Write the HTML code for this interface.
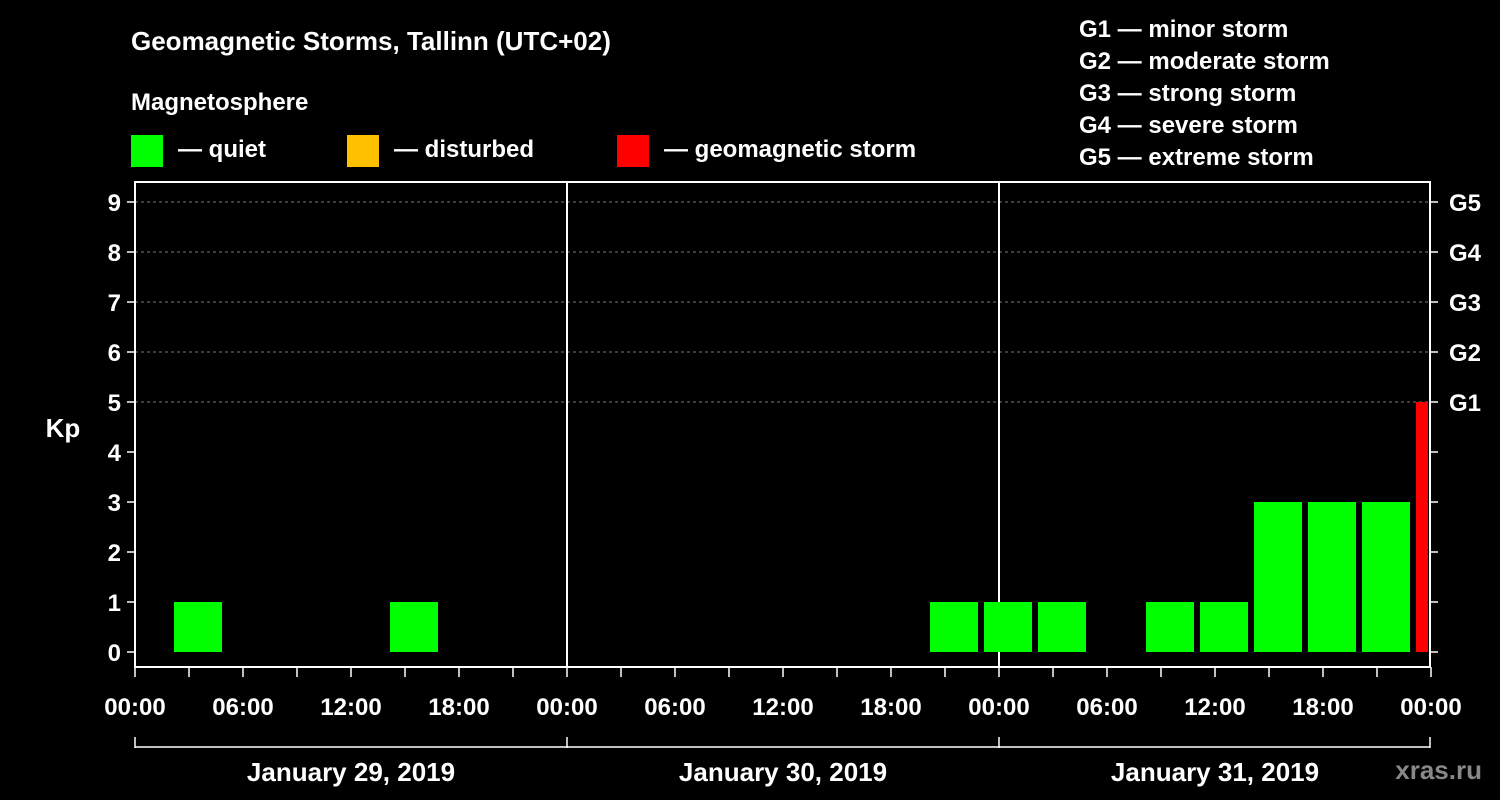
<!DOCTYPE html>
<html><head><meta charset="utf-8">
<style>
body{margin:0;background:#000;}
svg{display:block;font-family:"Liberation Sans",sans-serif;font-weight:bold;}
</style></head>
<body>
<svg id="chart" width="1500" height="800" viewBox="0 0 1500 800">
<rect x="0" y="0" width="1500" height="800" fill="#000"/>
<text x="131" y="50" fill="#fff" font-size="26">Geomagnetic Storms, Tallinn (UTC+02)</text>
<text x="131" y="110" fill="#fff" font-size="24">Magnetosphere</text>
<g><rect x="131" y="135" width="32" height="32" fill="#00ff00"/><text x="178" y="157" fill="#fff" font-size="24">— quiet</text></g>
<g><rect x="347" y="135" width="32" height="32" fill="#ffc000"/><text x="394" y="157" fill="#fff" font-size="24">— disturbed</text></g>
<g><rect x="617" y="135" width="32" height="32" fill="#ff0000"/><text x="664" y="157" fill="#fff" font-size="24">— geomagnetic storm</text></g>
<g fill="#fff" font-size="24">
<text x="1079" y="37">G1 — minor storm</text>
<text x="1079" y="69">G2 — moderate storm</text>
<text x="1079" y="101">G3 — strong storm</text>
<text x="1079" y="133">G4 — severe storm</text>
<text x="1079" y="165">G5 — extreme storm</text>
</g>
<text x="63" y="437" fill="#fff" font-size="26" text-anchor="middle">Kp</text>
<text x="1482" y="779" fill="#888" font-size="26" text-anchor="end">xras.ru</text>
<g id="grid"></g><g id="bars"></g><g id="axes"></g>
</svg>
<script>
const kpValues=[1,0,0,0,1,0,0,0, 0,0,0,0,0,0,1,1, 1,0,1,1,3,3,3,5];
const dayLabels=["January 29, 2019","January 30, 2019","January 31, 2019"];
const gLabels=["G1","G2","G3","G4","G5"];
const hourLabels=["00:00","06:00","12:00","18:00"];
const slotOffsetHours=2, slotHours=3, nowHour=71.83;

const X0=135, X1=1431, totalH=72;
const x=h=>X0+(X1-X0)*h/totalH;
const y=k=>652-50*k;
const NS="http://www.w3.org/2000/svg";
function mk(tag,attrs,parent,text){const e=document.createElementNS(NS,tag);for(const a in attrs)e.setAttribute(a,attrs[a]);if(text!==undefined)e.textContent=text;parent.appendChild(e);return e;}
const grid=document.getElementById('grid'),bars=document.getElementById('bars'),axes=document.getElementById('axes');

for(let k=5;k<=9;k++){
 const l=mk('line',{x1:X0,x2:X1,y1:y(k),y2:y(k),stroke:'#777','stroke-dasharray':'3,3'},grid);
 
 
}
for(let d=1;d<3;d++){
 const l=mk('line',{x1:x(24*d),x2:x(24*d),y1:182,y2:667,stroke:'#fff','stroke-width':2},grid);
 
 
}
kpValues.forEach((v,i)=>{
 if(v<=0)return;
 const h0=slotOffsetHours+i*slotHours;
 const h1=Math.min(h0+slotHours,nowHour);
 const col=v>=5?'#ff0000':(v>=4?'#ffc000':'#00ff00');
 const left=x(h0)+3, right=(h1<h0+slotHours)?x(h1):x(h0+slotHours)-3;
 const r=mk('rect',{x:left,y:y(v),width:right-left,height:y(0)-y(v),fill:col},bars);
 
 
});
// plot frame
const fr=mk('rect',{x:X0,y:182,width:X1-X0-1,height:485,fill:'none',stroke:'#fff','stroke-width':2},axes);


for(let k=0;k<=9;k++){
 mk('line',{x1:X0-8,x2:X0,y1:y(k),y2:y(k),stroke:'#fff','stroke-width':1.5},axes);
 mk('line',{x1:X1-1,x2:X1+7,y1:y(k),y2:y(k),stroke:'#fff','stroke-width':1.5},axes);
 const t=mk('text',{x:X0-14,y:y(k)+9,fill:'#fff','font-size':24,'text-anchor':'end'},axes,String(k));
 
 
}
gLabels.forEach((g,i)=>{
 const t=mk('text',{x:X1+18,y:y(5+i)+9,fill:'#fff','font-size':24},axes,g);
 
 
});
for(let h=0;h<=totalH;h+=3){
 mk('line',{x1:x(h),x2:x(h),y1:667,y2:677,stroke:'#fff','stroke-width':1.5},axes);
}
for(let h=0;h<=totalH;h+=6){
 const t=mk('text',{x:x(h),y:715,fill:'#fff','font-size':24,'text-anchor':'middle'},axes,hourLabels[(h/6)%4]);
 
 
}
mk('line',{x1:X0,x2:X1-1,y1:747,y2:747,stroke:'#fff','stroke-width':1.5},axes);
for(let d=0;d<=3;d++)mk('line',{x1:x(24*d)-(d==3?1:0),x2:x(24*d)-(d==3?1:0),y1:737,y2:748,stroke:'#fff','stroke-width':1.5},axes);
dayLabels.forEach((s,i)=>{
 const t=mk('text',{x:x(24*i+12),y:781,fill:'#fff','font-size':26,'text-anchor':'middle'},axes,s);
 
 
});
</script>
</body></html>
